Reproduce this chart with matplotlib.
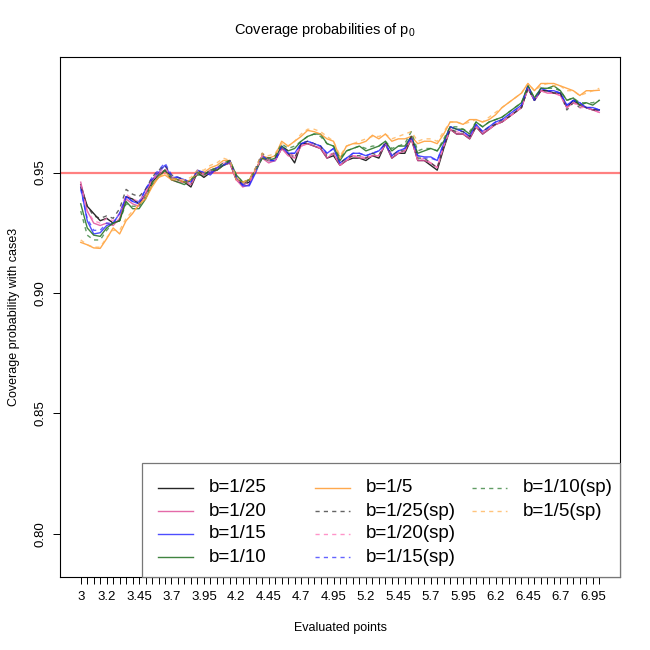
import matplotlib
matplotlib.use("Agg")
import matplotlib.pyplot as plt
import numpy as np
from matplotlib.lines import Line2D
from matplotlib.patches import Rectangle

plt.rcParams['font.family'] = ['Liberation Sans', 'DejaVu Sans']

# evaluation grid 3.00, 3.05, ..., 7.00
points = np.round(np.arange(3.0, 7.0001, 0.05), 2)
shown_labels = ['3', '3.2', '3.45', '3.7', '3.95', '4.2', '4.45', '4.7', '4.95',
                '5.2', '5.45', '5.7', '5.95', '6.2', '6.45', '6.7', '6.95']

b25 = [0.945, 0.936, 0.933, 0.930, 0.931, 0.929, 0.930, 0.940, 0.939, 0.937,
       0.941, 0.946, 0.949, 0.951, 0.948, 0.947, 0.946, 0.944, 0.950, 0.948,
       0.950, 0.951, 0.953, 0.954, 0.947, 0.945, 0.946, 0.951, 0.957, 0.955,
       0.955, 0.960, 0.958, 0.954, 0.962, 0.962, 0.961, 0.960, 0.956, 0.957,
       0.953, 0.955, 0.956, 0.956, 0.955, 0.957, 0.956, 0.962, 0.956, 0.958,
       0.958, 0.964, 0.955, 0.955, 0.953, 0.951, 0.960, 0.968, 0.966, 0.966,
       0.964, 0.969, 0.966, 0.968, 0.970, 0.971, 0.973, 0.975, 0.977, 0.985,
       0.980, 0.984, 0.984, 0.983, 0.983, 0.977, 0.980, 0.978, 0.977, 0.976,
       0.976]
b20 = [0.946, 0.934, 0.929, 0.928, 0.929, 0.928, 0.931, 0.939, 0.937, 0.936,
       0.941, 0.947, 0.949, 0.951, 0.947, 0.946, 0.946, 0.945, 0.950, 0.949,
       0.950, 0.951, 0.953, 0.954, 0.947, 0.944, 0.945, 0.951, 0.956, 0.954,
       0.955, 0.960, 0.957, 0.956, 0.961, 0.962, 0.961, 0.960, 0.956, 0.958,
       0.953, 0.955, 0.957, 0.956, 0.956, 0.957, 0.957, 0.962, 0.956, 0.958,
       0.959, 0.964, 0.955, 0.955, 0.954, 0.952, 0.961, 0.968, 0.966, 0.966,
       0.964, 0.969, 0.966, 0.968, 0.970, 0.971, 0.973, 0.975, 0.977, 0.985,
       0.980, 0.984, 0.983, 0.983, 0.982, 0.977, 0.979, 0.978, 0.977, 0.976,
       0.975]
b15 = [0.944, 0.930, 0.9245, 0.925, 0.928, 0.929, 0.933, 0.940, 0.938, 0.937,
       0.943, 0.947, 0.950, 0.953, 0.948, 0.948, 0.947, 0.946, 0.951, 0.950,
       0.949, 0.952, 0.953, 0.9545, 0.948, 0.9445, 0.9445, 0.950, 0.957, 0.955,
       0.955, 0.961, 0.958, 0.958, 0.962, 0.963, 0.962, 0.961, 0.958, 0.960,
       0.954, 0.956, 0.958, 0.958, 0.957, 0.958, 0.959, 0.962, 0.957, 0.959,
       0.960, 0.965, 0.957, 0.9565, 0.9565, 0.955, 0.962, 0.969, 0.968, 0.967,
       0.965, 0.970, 0.967, 0.969, 0.971, 0.972, 0.974, 0.976, 0.978, 0.986,
       0.980, 0.985, 0.984, 0.984, 0.983, 0.978, 0.980, 0.979, 0.977, 0.977,
       0.976]
b10 = [0.937, 0.927, 0.924, 0.9235, 0.927, 0.929, 0.930, 0.938, 0.935, 0.935,
       0.939, 0.945, 0.948, 0.951, 0.947, 0.946, 0.945, 0.947, 0.949, 0.949,
       0.951, 0.951, 0.953, 0.955, 0.949, 0.946, 0.947, 0.951, 0.956, 0.955,
       0.956, 0.961, 0.959, 0.960, 0.963, 0.965, 0.966, 0.966, 0.962, 0.961,
       0.955, 0.959, 0.960, 0.961, 0.959, 0.960, 0.961, 0.963, 0.959, 0.961,
       0.961, 0.965, 0.958, 0.959, 0.960, 0.959, 0.963, 0.969, 0.968, 0.968,
       0.966, 0.971, 0.969, 0.971, 0.972, 0.973, 0.975, 0.977, 0.979, 0.986,
       0.981, 0.985, 0.985, 0.986, 0.984, 0.980, 0.981, 0.978, 0.979, 0.978,
       0.980]
b5 = [0.921, 0.920, 0.9187, 0.9185, 0.9225, 0.927, 0.9245, 0.930, 0.933, 0.937,
      0.939, 0.944, 0.948, 0.949, 0.947, 0.947, 0.946, 0.947, 0.950, 0.950,
      0.952, 0.953, 0.955, 0.955, 0.947, 0.946, 0.947, 0.951, 0.957, 0.956,
      0.957, 0.963, 0.961, 0.963, 0.965, 0.9675, 0.967, 0.966, 0.964, 0.963,
      0.956, 0.961, 0.962, 0.962, 0.963, 0.9655, 0.964, 0.966, 0.963, 0.964,
      0.964, 0.965, 0.962, 0.963, 0.963, 0.962, 0.966, 0.971, 0.971, 0.970,
      0.972, 0.972, 0.971, 0.972, 0.974, 0.977, 0.979, 0.981, 0.983, 0.987,
      0.984, 0.987, 0.987, 0.987, 0.986, 0.985, 0.984, 0.982, 0.984, 0.984,
      0.9842]
b25_sp = [0.944, 0.936, 0.932, 0.931, 0.932, 0.931, 0.935, 0.943, 0.941, 0.940,
          0.943, 0.948, 0.951, 0.953, 0.949, 0.948, 0.947, 0.945, 0.951, 0.949,
          0.951, 0.952, 0.954, 0.955, 0.948, 0.945, 0.947, 0.952, 0.958, 0.956,
          0.956, 0.961, 0.959, 0.956, 0.962, 0.963, 0.962, 0.961, 0.957, 0.958,
          0.954, 0.956, 0.957, 0.957, 0.956, 0.958, 0.957, 0.963, 0.957, 0.959,
          0.959, 0.965, 0.956, 0.956, 0.954, 0.952, 0.961, 0.968, 0.967, 0.967,
          0.965, 0.969, 0.967, 0.969, 0.970, 0.972, 0.973, 0.975, 0.977, 0.985,
          0.980, 0.984, 0.984, 0.983, 0.983, 0.976, 0.979, 0.977, 0.977, 0.976,
          0.976]
b20_sp = [0.945, 0.934, 0.930, 0.929, 0.931, 0.930, 0.933, 0.941, 0.939, 0.938,
          0.942, 0.947, 0.950, 0.952, 0.948, 0.947, 0.947, 0.945, 0.950, 0.949,
          0.951, 0.952, 0.954, 0.954, 0.947, 0.945, 0.946, 0.951, 0.957, 0.955,
          0.955, 0.960, 0.958, 0.957, 0.961, 0.962, 0.962, 0.960, 0.957, 0.958,
          0.953, 0.955, 0.957, 0.957, 0.956, 0.957, 0.957, 0.962, 0.957, 0.958,
          0.959, 0.964, 0.955, 0.956, 0.954, 0.952, 0.961, 0.968, 0.967, 0.966,
          0.965, 0.969, 0.967, 0.968, 0.970, 0.971, 0.973, 0.975, 0.977, 0.985,
          0.980, 0.984, 0.983, 0.983, 0.982, 0.977, 0.979, 0.977, 0.977, 0.976,
          0.975]
b15_sp = [0.943, 0.931, 0.926, 0.926, 0.929, 0.929, 0.933, 0.940, 0.938, 0.938,
          0.943, 0.948, 0.951, 0.954, 0.949, 0.948, 0.947, 0.946, 0.951, 0.950,
          0.950, 0.952, 0.953, 0.955, 0.948, 0.945, 0.945, 0.951, 0.957, 0.955,
          0.955, 0.961, 0.958, 0.958, 0.962, 0.963, 0.962, 0.961, 0.958, 0.960,
          0.954, 0.956, 0.958, 0.958, 0.957, 0.958, 0.959, 0.962, 0.957, 0.959,
          0.960, 0.965, 0.957, 0.956, 0.956, 0.955, 0.962, 0.969, 0.968, 0.967,
          0.965, 0.970, 0.967, 0.969, 0.971, 0.972, 0.974, 0.976, 0.978, 0.986,
          0.980, 0.985, 0.984, 0.984, 0.983, 0.978, 0.980, 0.979, 0.977, 0.977,
          0.976]
b10_sp = [0.934, 0.924, 0.922, 0.922, 0.926, 0.929, 0.930, 0.937, 0.936, 0.936,
          0.940, 0.946, 0.949, 0.951, 0.948, 0.947, 0.946, 0.947, 0.950, 0.949,
          0.951, 0.952, 0.954, 0.955, 0.949, 0.946, 0.947, 0.951, 0.956, 0.956,
          0.957, 0.962, 0.960, 0.961, 0.963, 0.965, 0.966, 0.965, 0.962, 0.961,
          0.956, 0.959, 0.960, 0.961, 0.960, 0.961, 0.961, 0.963, 0.960, 0.961,
          0.962, 0.967, 0.959, 0.960, 0.960, 0.959, 0.964, 0.969, 0.969, 0.968,
          0.967, 0.971, 0.969, 0.971, 0.972, 0.973, 0.975, 0.977, 0.979, 0.986,
          0.981, 0.985, 0.985, 0.985, 0.984, 0.980, 0.981, 0.979, 0.979, 0.979,
          0.980]
b5_sp = [0.922, 0.920, 0.919, 0.919, 0.923, 0.926, 0.926, 0.931, 0.934, 0.936,
         0.940, 0.945, 0.948, 0.950, 0.948, 0.947, 0.947, 0.948, 0.951, 0.951,
         0.953, 0.954, 0.956, 0.955, 0.948, 0.946, 0.947, 0.952, 0.958, 0.957,
         0.958, 0.962, 0.961, 0.963, 0.966, 0.968, 0.968, 0.967, 0.965, 0.963,
         0.957, 0.961, 0.962, 0.963, 0.964, 0.965, 0.965, 0.966, 0.964, 0.965,
         0.966, 0.967, 0.963, 0.964, 0.964, 0.963, 0.967, 0.971, 0.971, 0.970,
         0.971, 0.972, 0.971, 0.973, 0.975, 0.977, 0.979, 0.981, 0.983, 0.987,
         0.984, 0.986, 0.987, 0.986, 0.986, 0.984, 0.984, 0.982, 0.983, 0.984,
         0.985]

series = [
    ("b=1/25", b25, "#000000", 0.85, "-"),
    ("b=1/20", b20, "#E0509A", 0.85, "-"),
    ("b=1/15", b15, "#2020FF", 0.8, "-"),
    ("b=1/10", b10, "#1E6E1E", 0.85, "-"),
    ("b=1/5", b5, "#FF9A2E", 0.85, "-"),
    ("b=1/25(sp)", b25_sp, "#303030", 0.75, "--"),
    ("b=1/20(sp)", b20_sp, "#FF70B8", 0.75, "--"),
    ("b=1/15(sp)", b15_sp, "#3030FF", 0.75, "--"),
    ("b=1/10(sp)", b10_sp, "#2E7D32", 0.75, "--"),
    ("b=1/5(sp)", b5_sp, "#FFB050", 0.75, "--"),
]

fig = plt.figure(figsize=(6.5, 6.5), dpi=100)
ax = fig.add_axes([60 / 650, 73 / 650, 560 / 650, 520 / 650])

for lab, vals, col, a, ls in series:
    if ls == "--":
        ax.plot(points, vals, color=col, alpha=a, lw=1, dashes=(3, 3))
    else:
        ax.plot(points, vals, color=col, alpha=a, lw=1)

ax.axhline(0.95, color="#FF8080", lw=1.6, zorder=0.5)

ax.set_xlim(2.84, 7.16)
ax.set_ylim(0.782, 0.998)

# R style axis: every point gets a tick, only non-overlapping labels
xt_labels = []
for p in points:
    s = ('%g' % p)
    xt_labels.append(s if s in shown_labels else '')
ax.set_xticks(points)
ax.set_xticklabels(xt_labels)
ax.set_yticks([0.80, 0.85, 0.90, 0.95])
ax.set_yticklabels(['0.80', '0.85', '0.90', '0.95'], rotation=90, va='center')
ax.tick_params(direction='out', length=5, width=0.7, labelsize=9.5, pad=5)
for sp in ax.spines.values():
    sp.set_linewidth(0.8)

ax.set_xlabel("Evaluated points", fontsize=9, labelpad=14)
ax.set_ylabel("Coverage probability with case3", fontsize=9, labelpad=10)
fig.text(0.5, 620 / 650, r"Coverage probabilities of p$_\mathregular{0}$",
         ha='center', va='center', fontsize=10.5)

# legend drawn R style (bottomright, ncol=3, filled by column)
H = 650.0
fig.add_artist(Rectangle((142 / H, (H - 577) / H), 478 / H, 114 / H,
                         transform=fig.transFigure, facecolor='white',
                         edgecolor='#777777', lw=0.9, zorder=5))
for k, (lab, vals, col, a, ls) in enumerate(series):
    c, r = divmod(k, 4)
    x0 = 158 + 157 * c
    y = (H - (488 + 23 * r)) / H
    ln = Line2D([x0 / H, (x0 + 35) / H], [y, y], transform=fig.transFigure,
                color=col, alpha=a, lw=1, zorder=6)
    if ls == "--":
        ln.set_dashes((3, 3))
    fig.add_artist(ln)
    fig.text((x0 + 51) / H, y, lab, ha='left', va='center', fontsize=13.5, zorder=6)

fig.savefig("out.png", dpi=100)
